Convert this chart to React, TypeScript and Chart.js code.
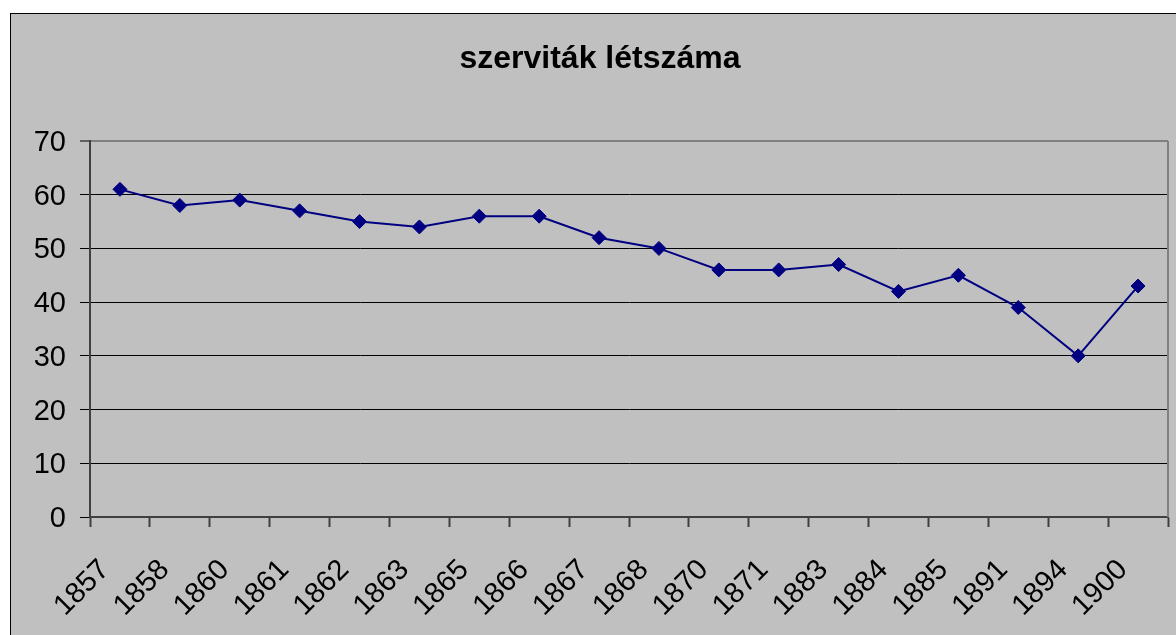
import React, { useEffect, useRef } from "react";
import { Chart, registerables } from "chart.js";

Chart.register(...registerables);

const categories = ["1857", "1858", "1860", "1861", "1862", "1863", "1865", "1866", "1867", "1868", "1870", "1871", "1883", "1884", "1885", "1891", "1894", "1900"];
const members = [61, 58, 59, 57, 55, 54, 56, 56, 52, 50, 46, 46, 47, 42, 45, 39, 30, 43];
const titleText = "szerviták létszáma";
const yMin = 0;
const yMax = 70;
const yStep = 10;

const FONT = "'Liberation Sans', Arial, Helvetica, sans-serif";

const frame = {
  id: "frame",
  beforeDraw(chart: any) {
    const { ctx, width, height } = chart;
    ctx.save();
    ctx.fillStyle = "#ffffff";
    ctx.fillRect(0, 0, width, height);
    ctx.fillStyle = "#c0c0c0";
    ctx.fillRect(10, 13, width + 20, height + 20);
    ctx.strokeStyle = "#000000";
    ctx.lineWidth = 1;
    ctx.strokeRect(10.5, 13.5, width + 20, height + 20);
    ctx.restore();
  },
  beforeDatasetsDraw(chart: any) {
    const { ctx, chartArea } = chart;
    ctx.save();
    ctx.strokeStyle = "#808080";
    ctx.lineWidth = 2;
    ctx.beginPath();
    ctx.moveTo(chartArea.right, chartArea.top);
    ctx.lineTo(chartArea.right, chartArea.bottom);
    ctx.stroke();
    ctx.restore();
  },
};

export default function App() {
  const ref = useRef<HTMLCanvasElement | null>(null);
  useEffect(() => {
    if (!ref.current) return;
    const chart = new Chart(ref.current, {
      type: "line",
      data: {
        labels: categories,
        datasets: [
          {
            data: members,
            borderColor: "#000080",
            backgroundColor: "#000080",
            borderWidth: 2,
            pointStyle: "rectRot",
            pointRadius: 7,
            pointBorderWidth: 1,
            pointBackgroundColor: "#000080",
            pointBorderColor: "#000080",
            tension: 0,
          },
        ],
      },
      options: {
        responsive: false,
        animation: false,
        devicePixelRatio: 1,
        layout: { padding: { left: 30, right: 6, top: 0, bottom: 0 } },
        plugins: {
          legend: { display: false },
          tooltip: { enabled: false },
          title: {
            display: true,
            text: titleText,
            color: "#000000",
            font: { family: FONT, size: 32, weight: "bold" },
            padding: { top: 40, bottom: 62.6 },
          },
        },
        scales: {
          x: {
            type: "category",
            offset: true,
            afterFit(scale: any) {
              scale.height = 118;
              scale.paddingLeft = 0;
              scale.paddingRight = 0;
            },
            grid: {
              display: true,
              offset: true,
              drawOnChartArea: false,
              drawTicks: true,
              tickLength: 10,
              tickColor: "#404040",
              tickWidth: 2,
            },
            border: { display: true, color: "#404040", width: 2 },
            ticks: {
              autoSkip: false,
              maxRotation: 45,
              minRotation: 45,
              padding: 26,
              labelOffset: -15,
              color: "#000000",
              font: { family: FONT, size: 29 },
            },
          },
          y: {
            min: yMin,
            max: yMax,
            afterFit(scale: any) {
              scale.width = 60;
            },
            ticks: {
              stepSize: yStep,
              padding: 14,
              labelOffset: 2,
              color: "#000000",
              font: { family: FONT, size: 29 },
            },
            grid: {
              color: (c: any) => (c.tick && c.tick.value === yMax ? "#808080" : "#000000"),
              lineWidth: (c: any) => (c.tick && c.tick.value === yMax ? 2 : 1),
              tickColor: "#000000",
              tickLength: 10,
              tickWidth: 1,
            },
            border: { display: true, color: "#404040", width: 2 },
          },
        },
      },
      plugins: [frame],
    });
    return () => chart.destroy();
  }, []);
  return (
    <div style={{ position: "absolute", left: 0, top: 0, width: 1176, height: 635, overflow: "hidden" }}>
      <canvas ref={ref} width={1176} height={635} style={{ display: "block" }} />
    </div>
  );
}
